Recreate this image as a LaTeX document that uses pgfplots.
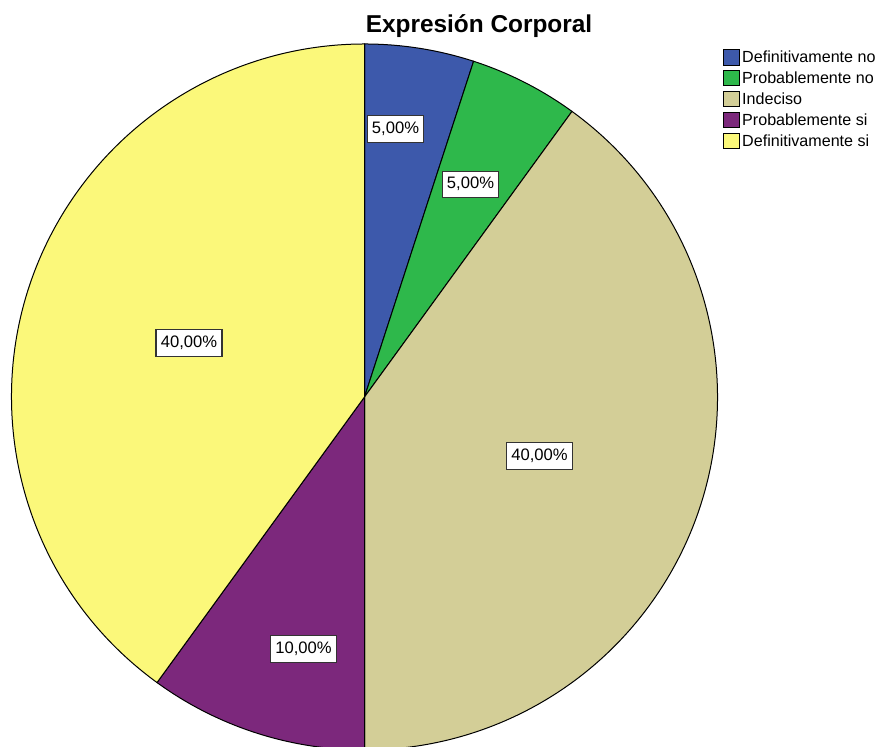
\documentclass[border=0pt]{standalone}
\usepackage{pgfplots}
\pgfplotsset{compat=1.18}
\usepackage{fontspec}
\setmainfont{Liberation Sans}
\setsansfont{Liberation Sans}
\definecolor{cA}{HTML}{3D59AB}
\definecolor{cB}{HTML}{2EB84B}
\definecolor{cC}{HTML}{D3CE97}
\definecolor{cD}{HTML}{7C287C}
\definecolor{cE}{HTML}{FBF87A}
\begin{document}
\begin{tikzpicture}
\def\R{176.5pt}
\begin{axis}[
  x=176.5pt, y=176.5pt,
  xmin=-1.0326, xmax=1.4547, ymin=-0.9915, ymax=1.1246,
  hide axis, clip=false,
  legend style={at={(axis cs:1.0156,0.9858)}, anchor=north west, draw=none, fill=none,
    inner sep=0pt, outer sep=0pt, font=\fontsize{8.05}{9}\selectfont,
    nodes={inner sep=0pt, text height=6.4pt, text depth=1.8pt},
    row sep=1.8pt, /tikz/every odd column/.append style={column sep=1.3pt}},
  legend cell align=left,
  legend image code/.code={\draw[#1, line width=0.5pt] (0pt,-3.5pt) rectangle (7.8pt,4.3pt);},
]
% values (percent): 5, 5, 40, 10, 40 ; 1 percent = 3.6 degrees, clockwise from 12 o'clock
\fill[cA, draw=black, line width=0.5pt] (axis cs:0,0) -- ++(90:\R) arc[start angle=90, end angle=72, radius=\R] -- cycle;
\fill[cB, draw=black, line width=0.5pt] (axis cs:0,0) -- ++(72:\R) arc[start angle=72, end angle=54, radius=\R] -- cycle;
\fill[cC, draw=black, line width=0.5pt] (axis cs:0,0) -- ++(54:\R) arc[start angle=54, end angle=-90, radius=\R] -- cycle;
\fill[cD, draw=black, line width=0.5pt] (axis cs:0,0) -- ++(-90:\R) arc[start angle=-90, end angle=-126, radius=\R] -- cycle;
\fill[cE, draw=black, line width=0.5pt] (axis cs:0,0) -- ++(-126:\R) arc[start angle=-126, end angle=-270, radius=\R] -- cycle;
\addlegendimage{fill=cA, draw=black}\addlegendentry{Definitivamente no}
\addlegendimage{fill=cB, draw=black}\addlegendentry{Probablemente no}
\addlegendimage{fill=cC, draw=black}\addlegendentry{Indeciso}
\addlegendimage{fill=cD, draw=black}\addlegendentry{Probablemente si}
\addlegendimage{fill=cE, draw=black}\addlegendentry{Definitivamente si}
\tikzset{lbl/.style={draw=black!80, fill=white, line width=0.6pt, inner xsep=2.4pt, inner ysep=2.8pt,
  text height=6pt, text depth=1.6pt, font=\fontsize{8.3}{9}\selectfont}}
\node[lbl] at (axis cs:0.0878,0.7592) {5,00\%};
\node[lbl] at (axis cs:0.3003,0.6020) {5,00\%};
\node[lbl] at (axis cs:0.4958,-0.1671) {40,00\%};
\node[lbl] at (axis cs:-0.1728,-0.7139) {10,00\%};
\node[lbl] at (axis cs:-0.4972,0.1530) {40,00\%};
\node[anchor=base, inner sep=0pt, font=\bfseries\fontsize{12.2}{14}\selectfont] at (axis cs:0.3244,1.0312) {Expresión Corporal};
\end{axis}
\pgfresetboundingbox
\path (current axis.south west) rectangle (current axis.north east);
\end{tikzpicture}
\end{document}
